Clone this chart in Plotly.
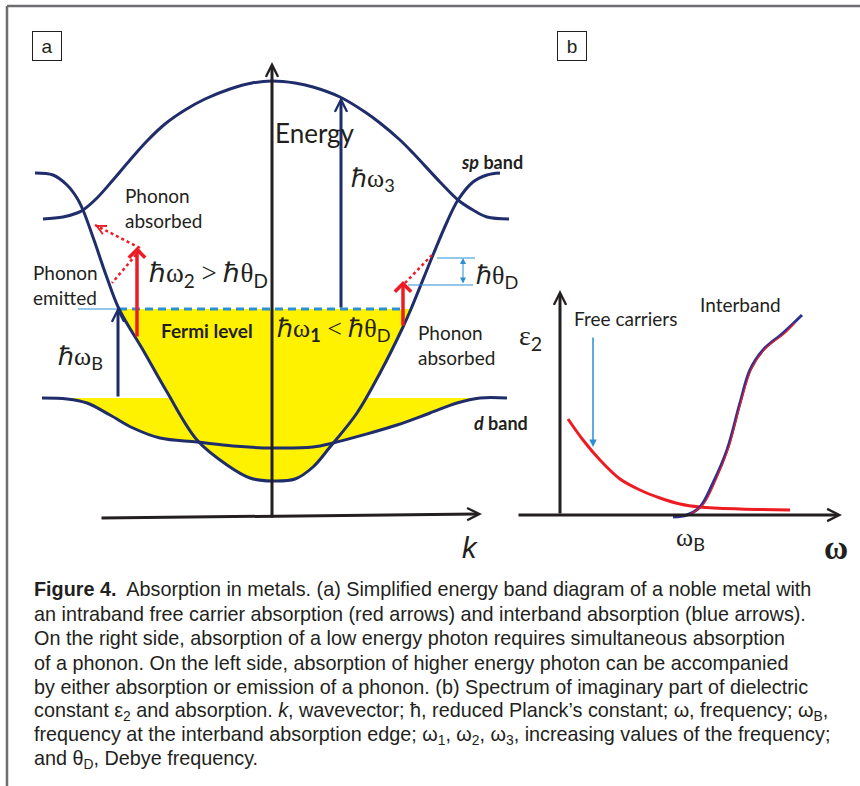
import plotly.graph_objects as go

# ---------------- panel (a): simplified band diagram (k, energy) ----------------
upper_k = [-2.29, -2.09, -1.95, -1.89, -1.75, -1.59, -1.42, -1.25, -1.07, -0.87, -0.67, -0.42, -0.20, 0.00,
           0.23, 0.41, 0.68, 0.93, 1.08, 1.28, 1.41, 1.68, 1.86, 2.01, 2.15, 2.37]
upper_E = [2.99, 3.01, 3.05, 3.08, 3.20, 3.38, 3.58, 3.77, 3.94, 4.08, 4.19, 4.29, 4.35, 4.37,
           4.35, 4.31, 4.21, 4.06, 3.95, 3.78, 3.65, 3.36, 3.18, 3.08, 3.01, 2.99]

sp_k = [-2.37, -2.19, -2.05, -1.95, -1.89, -1.78, -1.66, -1.53, -1.29, -1.05, -0.75, -0.45, -0.22, 0.00,
        0.23, 0.41, 0.58, 0.85, 1.08, 1.31, 1.39, 1.61, 1.75, 1.86, 2.01, 2.15, 2.28]
sp_E = [3.45, 3.43, 3.33, 3.20, 3.08, 2.78, 2.43, 2.09, 1.68, 1.26, 0.78, 0.53, 0.40, 0.37,
        0.39, 0.51, 0.71, 1.05, 1.45, 1.91, 2.09, 2.63, 2.96, 3.18, 3.36, 3.43, 3.45]

d_k = [-2.30, -2.05, -1.85, -1.62, -1.39, -1.12, -0.75, -0.39, 0.00, 0.41, 0.61, 0.91, 1.25, 1.58, 1.85, 2.08, 2.35]
d_E = [1.20, 1.19, 1.15, 1.03, 0.90, 0.80, 0.76, 0.72, 0.70, 0.71, 0.75, 0.83, 0.93, 1.05, 1.15, 1.20, 1.20]

E_FERMI = 2.09
fermi_k = [-1.53, 1.30]
fermi_lead_k = [-1.94, -1.53]

# vertical optical transitions: (k, E_start, E_end)
trans_B = (-1.54, 1.20, 2.11)
trans_2 = (-1.35, 1.80, 2.71)
trans_3 = (0.69, 2.09, 4.21)
trans_1 = (1.31, 1.91, 2.37)
# phonon-assisted steps: (k_start, E_start, k_end, E_end)
phonon_abs_left = (-1.32, 2.70, -1.77, 2.93)
phonon_emit_left = (-1.32, 2.68, -1.60, 2.35)
phonon_abs_right = (1.33, 2.35, 1.60, 2.63)
# Debye energy bracket
theta_upper = (1.65, 2.03, 2.60)
theta_lower = (1.36, 2.01, 2.33)
theta_k = 1.91

# ---------------- panel (b): eps2 spectrum (omega, eps2) ----------------
free_w = [0.08, 0.23, 0.40, 0.60, 0.80, 1.00, 1.20, 1.40, 1.80, 2.30]
free_eps = [0.96, 0.75, 0.55, 0.36, 0.25, 0.17, 0.11, 0.08, 0.06, 0.05]
inter_w = [1.13, 1.27, 1.40, 1.53, 1.67, 1.80, 1.90, 2.03, 2.23, 2.42]
inter_eps = [-0.02, 0.00, 0.08, 0.32, 0.65, 1.12, 1.45, 1.65, 1.82, 2.00]
inter_red_w = [1.30, 1.43, 1.56, 1.69, 1.81, 1.92, 2.05, 2.24, 2.35]
inter_red_eps = [0.01, 0.10, 0.35, 0.68, 1.13, 1.47, 1.66, 1.81, 1.92]
free_arrow = (0.33, 1.79, 0.68)

caption_lines = [
    "<b>Figure 4.</b>  Absorption in metals. (a) Simplified energy band diagram of a noble metal with",
    "an intraband free carrier absorption (red arrows) and interband absorption (blue arrows).",
    "On the right side, absorption of a low energy photon requires simultaneous absorption",
    "of a phonon. On the left side, absorption of higher energy photon can be accompanied",
    "by either absorption or emission of a phonon. (b) Spectrum of imaginary part of dielectric",
    "constant ε<sub>2</sub> and absorption. <i>k</i>, wavevector; ħ, reduced Planck’s constant; ω, frequency; ω<sub>B</sub>,",
    "frequency at the interband absorption edge; ω<sub>1</sub>, ω<sub>2</sub>, ω<sub>3</sub>, increasing values of the frequency;",
    "and θ<sub>D</sub>, Debye frequency.",
]
caption_y = [589, 614, 638, 663, 687, 711, 735, 759]

NAVY = "#1f2d6b"
RED = "#ed1c24"
YELLOW = "#fff200"
LBLUE = "#2b8fd3"
INK = "#231f20"
PURPLE = "#2e3192"

W, H = 860, 786
fig = go.Figure()

# Fermi sea (sp states below the Fermi level)
i0 = sp_E.index(E_FERMI)
i1 = len(sp_E) - 1 - sp_E[::-1].index(E_FERMI)
fig.add_trace(go.Scatter(x=sp_k[i0:i1 + 1], y=sp_E[i0:i1 + 1], mode="lines", fill="toself",
                         fillcolor=YELLOW, line=dict(width=0, shape="spline", color=YELLOW)))
# filled d band
fig.add_trace(go.Scatter(x=d_k[:-1], y=d_E[:-1], mode="lines", fill="toself",
                         fillcolor=YELLOW, line=dict(width=0, shape="spline", color=YELLOW)))

# Fermi level
fig.add_trace(go.Scatter(x=fermi_lead_k, y=[E_FERMI] * 2, mode="lines", line=dict(color=LBLUE, width=1)))
fig.add_trace(go.Scatter(x=fermi_k, y=[E_FERMI] * 2, mode="lines", line=dict(color=LBLUE, width=3, dash="8px,5px")))

# bands
for kk, ee in [(upper_k, upper_E), (sp_k, sp_E), (d_k, d_E)]:
    fig.add_trace(go.Scatter(x=kk, y=ee, mode="lines", line=dict(color=NAVY, width=3, shape="spline", smoothing=1)))

# dotted phonon steps
for k0, e0, k1, e1 in [phonon_abs_left, phonon_emit_left, phonon_abs_right]:
    fig.add_trace(go.Scatter(x=[k0, k1], y=[e0, e1], mode="lines", line=dict(color=RED, width=2.5, dash="dot")))

# Debye bracket lines
for ka, kb, ee in [theta_upper, theta_lower]:
    fig.add_trace(go.Scatter(x=[ka, kb], y=[ee, ee], mode="lines", line=dict(color=LBLUE, width=1)))

# panel (b) curves
fig.add_trace(go.Scatter(x=free_w, y=free_eps, xaxis="x2", yaxis="y2", mode="lines",
                         line=dict(color=RED, width=3, shape="spline")))
fig.add_trace(go.Scatter(x=inter_w, y=inter_eps, xaxis="x2", yaxis="y2", mode="lines",
                         line=dict(color=PURPLE, width=3, shape="spline")))
fig.add_trace(go.Scatter(x=inter_red_w, y=inter_red_eps, xaxis="x2", yaxis="y2", mode="lines",
                         line=dict(color=RED, width=1.2, shape="spline")))

ann = []


def arrow(x0, y0, x1, y1, color, width, head=5, size=0.8, ref="", side="end"):
    ann.append(dict(x=x1, y=y1, ax=x0, ay=y0, xref="x" + ref, yref="y" + ref, axref="x" + ref,
                    ayref="y" + ref, text="", showarrow=True, arrowhead=head, startarrowhead=head,
                    arrowsize=size, startarrowsize=size, arrowwidth=width, arrowcolor=color,
                    arrowside=side, standoff=0, startstandoff=0))


def label(x, y, text, size, family="Lato", color=INK, xanchor="left", ref=""):
    ann.append(dict(x=x, y=y, xref="x" + ref, yref="y" + ref, text=text, showarrow=False,
                    xanchor=xanchor, yanchor="middle", font=dict(family=family, size=size, color=color)))


# axes of panel (a)
arrow(0, -0.01, 0, 4.56, INK, 3)
arrow(-1.72, 0.00, 2.10, 0.04, INK, 3)
# transitions
for k, e0, e1 in [trans_B, trans_3]:
    arrow(k, e0, k, e1, NAVY, 3)
for k, e0, e1 in [trans_2, trans_1]:
    arrow(k, e0, k, e1, RED, 3.5, head=4, size=0.9)
# heads of the phonon steps
for k0, e0, k1, e1 in [phonon_abs_left, phonon_emit_left, phonon_abs_right]:
    arrow(k1 - 0.12 * (k1 - k0), e1 - 0.12 * (e1 - e0), k1, e1, RED, 2, head=5, size=0.9)
arrow(theta_k, theta_lower[2], theta_k, theta_upper[2], LBLUE, 1, head=2, size=1.2, side="end+start")

# axes of panel (b)
arrow(0, 0, 0, 2.25, INK, 3, ref="2")
arrow(-0.43, 0, 2.82, 0, INK, 3, ref="2")
arrow(free_arrow[0], free_arrow[1], free_arrow[0], free_arrow[2], LBLUE, 1.5, head=2, size=1, ref="2")

SERIF = "Liberation Serif"
sub = lambda s: "<sub><span style='font-family:Lato'>%s</span></sub>" % s
HB = "ℏ"

label(0.43, 3.85, "Energy", 26, xanchor="center")
label(0.77, 3.38, HB + "ω" + sub("3"), 26, family=SERIF)
label(1.87, 3.56, "<b><i>sp</i> band</b>", 18)
label(-1.49, 3.23, "Phonon", 19)
label(-1.49, 2.98, "absorbed", 19)
label(-2.41, 2.46, "Phonon", 19)
label(-2.41, 2.21, "emitted", 19)
label(-1.25, 2.43, HB + "ω" + sub("2") + " > " + HB + "θ" + sub("D"), 27, family=SERIF)
label(-1.13, 1.88, "<b>Fermi level</b>", 19)
label(0.03, 1.88, HB + "ω" + sub("<b>1</b>") + " < " + HB + "θ" + sub("D"), 26, family=SERIF)
label(2.02, 2.41, HB + "θ" + sub("D"), 26, family=SERIF)
label(1.44, 1.86, "Phonon", 19)
label(1.44, 1.61, "absorbed", 19)
label(-2.16, 1.60, HB + "ω" + sub("B"), 26, family=SERIF)
label(2.00, 0.95, "<b><i>d</i> band</b>", 18)
label(1.98, -0.30, "<i>k</i>", 29, family="Liberation Sans", xanchor="center")

label(-0.30, 1.78, "ε" + sub("2"), 28, family=SERIF, xanchor="center", ref="2")
label(0.12, 1.97, "Free carriers", 19, ref="2")
label(1.38, 2.11, "Interband", 19, ref="2")
label(1.30, -0.24, "ω" + sub("B"), 26, family=SERIF, xanchor="center", ref="2")
label(2.76, -0.33, "<b>ω</b>", 33, family=SERIF, xanchor="center", ref="2")

# panel tags
for tag, px in [("a", 47), ("b", 572)]:
    ann.append(dict(x=px / W, y=1 - 46 / H, xref="paper", yref="paper", text=tag, showarrow=False,
                    xanchor="center", yanchor="middle", width=28, height=28, borderpad=0,
                    bordercolor=INK, borderwidth=1, font=dict(family="Liberation Sans", size=19, color=INK)))

# caption
for line, yc in zip(caption_lines, caption_y):
    ann.append(dict(x=32 / W, y=1 - yc / H, xref="paper", yref="paper", text=line, showarrow=False,
                    xanchor="left", yanchor="middle", font=dict(family="Liberation Sans", size=19.8, color=INK)))

fig.update_layout(
    width=W, height=H, margin=dict(l=0, r=0, t=0, b=0),
    paper_bgcolor="white", plot_bgcolor="rgba(0,0,0,0)", showlegend=False,
    xaxis=dict(domain=[0, 1], range=[-2.72, 5.88], visible=False),
    yaxis=dict(domain=[0, 1], range=[-2.68, 5.18], visible=False),
    xaxis2=dict(domain=[0, 1], range=[-5.60, 3.00], visible=False, overlaying="x", anchor="y2"),
    yaxis2=dict(domain=[0, 1], range=[-2.71, 5.15], visible=False, overlaying="y", anchor="x2"),
    annotations=ann,
    shapes=[
        dict(type="line", xref="paper", yref="paper", x0=7 / W, x1=1, y0=1 - 6 / H, y1=1 - 6 / H,
             line=dict(color="#6d6e71", width=2.5)),
        dict(type="line", xref="paper", yref="paper", x0=7 / W, x1=7 / W, y0=1 - 6 / H, y1=0,
             line=dict(color="#6d6e71", width=2.5)),
    ],
)

fig.write_html("out.html")
